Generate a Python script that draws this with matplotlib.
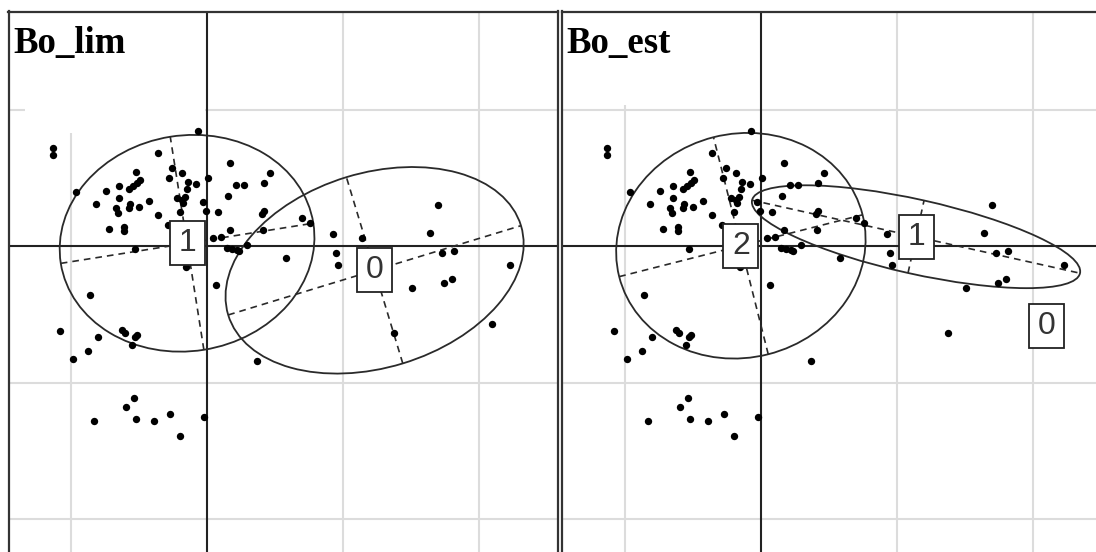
import numpy as np
import matplotlib
matplotlib.use("Agg")
import matplotlib.pyplot as plt
from matplotlib.patches import Ellipse, Rectangle

# point coordinates (same individuals in both panels)
pts_x = [-1.130, -1.130, -0.363, -0.963, -0.522, -0.260, -0.182, -0.493, -0.513, -0.542,
         -0.571, -0.645, -0.743, -0.277, -0.138, -0.083, -0.145, 0.010, -0.645, -0.816,
         -0.566, -0.571, -0.498, -0.424, -0.669, -0.652, -0.223, -0.186, -0.162, -0.174,
         -0.199, -0.032, -0.010, 0.083, -0.363, -0.718, -0.610, -0.610, -0.285, 0.042,
         0.101, 0.145, 0.182, 0.218, 0.238, -0.529, -0.070, 0.169, 0.463, 0.213,
         0.272, 0.419, 0.157, 0.419, 0.402, 0.696, 0.757, 0.169, 0.414, 0.929,
         1.137, 0.292, 0.581, 0.949, 0.965, 1.701, 1.640, 1.726, 1.816, 2.228,
         1.743, 1.804, 1.510, 1.375, 2.098, -0.157, 0.066, 0.368, -0.860, -1.081,
         -0.799, -0.627, -0.603, -0.517, -0.529, -0.554, -0.877, -0.983, -0.537, -0.596,
         -0.272, -0.022, -0.831, -0.522, -0.390, -0.199]
pts_y = [0.716, 0.667, 0.684, 0.393, 0.540, 0.569, 0.537, 0.484, 0.459, 0.440,
         0.418, 0.440, 0.405, 0.496, 0.467, 0.454, 0.418, 0.496, 0.349, 0.308,
         0.308, 0.276, 0.288, 0.332, 0.276, 0.240, 0.349, 0.337, 0.361, 0.313,
         0.251, 0.320, 0.259, 0.247, 0.227, 0.127, 0.141, 0.112, 0.154, 0.056,
         0.064, -0.017, -0.022, -0.029, -0.034, -0.024, 0.845, 0.606, 0.537, 0.447,
         0.447, 0.464, 0.366, 0.259, 0.234, 0.203, 0.171, 0.117, 0.117, 0.088,
         0.056, 0.007, -0.090, -0.049, -0.139, 0.300, 0.097, -0.049, -0.034, -0.139,
         -0.273, -0.240, -0.310, -0.635, -0.574, -0.152, -0.286, -0.842, -0.359, -0.621,
         -0.664, -0.615, -0.635, -0.652, -0.669, -0.725, -0.767, -0.826, -1.116, -1.177,
         -1.233, -1.251, -1.282, -1.267, -1.282, -1.392]

# group ellipses: label, centre x, centre y, semi-major, semi-minor, angle (deg)
lim_labels = ['1', '0']
lim_cx = [-0.147, 1.232]
lim_cy = [0.020, -0.178]
lim_a = [0.94, 1.125]
lim_b = [0.79, 0.713]
lim_ang = [9.0, 16.9]

est_labels = ['2', '1', '0']
est_cx = [-0.148, 1.140, 2.100]
est_cy = [0.002, 0.068, -0.585]
est_a = [0.923, 1.235, 0.0]
est_b = [0.82, 0.272, 0.0]
est_ang = [14.2, -12.5, 0.0]

W, H = 1096, 552
fig = plt.figure(figsize=(W / 100, H / 100), dpi=100)

ytop, ybot = 1.718, -2.6
hpx = (ytop - ybot) * 136.5
bot_px = 11.5 + hpx


def panel(x0px, xlim, title, labels, cx, cy, A, B, ang, cover):
    ax = fig.add_axes([x0px / W, (H - bot_px) / H, 549 / W, hpx / H])
    ax.set_xlim(*xlim)
    ax.set_ylim(ybot, ytop)
    ax.set_xticks([])
    ax.set_yticks([])
    for s in ax.spines.values():
        s.set_linewidth(1.6)
        s.set_color('#333333')
    for g in [-1, 1, 2]:
        ax.axvline(g, color='#dcdcdc', lw=1.5, zorder=1)
    for g in [1, -1, -2]:
        ax.axhline(g, color='#dcdcdc', lw=1.5, zorder=1)
    ax.add_patch(Rectangle((cover[0], cover[2]), cover[1] - cover[0], ytop - cover[2],
                           facecolor='white', edgecolor='none', zorder=1.5))
    ax.axvline(0, color='#222222', lw=1.5, zorder=2)
    ax.axhline(0, color='#222222', lw=1.5, zorder=2)

    ax.plot(pts_x, pts_y, 'o', color='black', ms=5.3, mew=0, zorder=4)

    for lab, x, y, a, b, t in zip(labels, cx, cy, A, B, ang):
        if a > 0:
            ax.add_patch(Ellipse((x, y), 2 * a, 2 * b, angle=t, fill=False,
                                 ec='#2a2a2a', lw=1.3, zorder=3))
            r = np.radians(t)
            ax.plot([x - a * np.cos(r), x + a * np.cos(r)],
                    [y - a * np.sin(r), y + a * np.sin(r)],
                    color='#2a2a2a', lw=1.2, ls=(0, (4, 3)), zorder=3)
            ax.plot([x + b * np.sin(r), x - b * np.sin(r)],
                    [y - b * np.cos(r), y + b * np.cos(r)],
                    color='#2a2a2a', lw=1.2, ls=(0, (4, 3)), zorder=3)
        bw, bh = 35 / 136.0, 44 / 136.5
        ax.add_patch(Rectangle((x - bw / 2, y - bh / 2), bw, bh, facecolor='white',
                               edgecolor='#222222', lw=1.3, zorder=5))
        ax.text(x, y, lab, ha='center', va='center', fontsize=23,
                family='Liberation Sans', color='#333333', zorder=6)

    ax.text(xlim[0] + 0.035, 1.414, title, ha='left', va='baseline', fontsize=26.5,
            family='Liberation Serif', fontweight='bold', color='black', zorder=7)
    return ax


panel(8.5, (-1.460, 2.577), 'Bo_lim', lim_labels, lim_cx, lim_cy, lim_a, lim_b, lim_ang,
      (-1.338, -0.015, 0.828))
panel(561.5, (-1.467, 2.570), 'Bo_est', est_labels, est_cx, est_cy, est_a, est_b, est_ang,
      (-1.467, -0.45, 1.033))

fig.savefig('out.png', dpi=100)
